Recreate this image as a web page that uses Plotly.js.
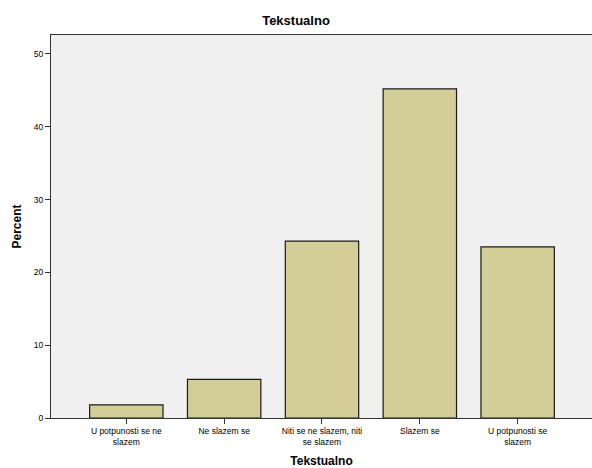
<!DOCTYPE html>
<html>
<head>
<meta charset="utf-8">
<script src="https://cdn.plot.ly/plotly-3.0.1.min.js"></script>
<style>html,body{margin:0;padding:0;background:#fff;}#chart{width:592px;height:468px;}</style>
</head>
<body>
<div id="chart"></div>
<script>
const categories = ["U potpunosti se ne<br>slazem", "Ne slazem se", "Niti se ne slazem, niti<br>se slazem", "Slazem se", "U potpunosti se<br>slazem"];
const percentValues = [1.8, 5.3, 24.3, 45.2, 23.5];
const yTickValues = [0, 10, 20, 30, 40, 50];

const trace = {
  type: "bar",
  x: categories.map((c, i) => i),
  y: percentValues,
  width: 0.75,
  marker: {color: "#D3CE97", line: {color: "#1a1a1a", width: 1.2}},
  hoverinfo: "none"
};

const layout = {
  width: 592, height: 468,
  margin: {l: 51, r: 0, t: 35, b: 50},
  paper_bgcolor: "#ffffff",
  plot_bgcolor: "#F0F0F0",
  font: {family: "Liberation Sans, Arial, sans-serif", color: "#000"},
  title: {text: "<b>Tekstualno</b>", font: {size: 13}, x: 0.5, xanchor: "center", y: 0.957, yanchor: "middle"},
  showlegend: false,
  bargap: 0.25,
  xaxis: {
    range: [-0.77, 4.76],
    tickmode: "array",
    tickvals: categories.map((c, i) => i),
    ticktext: categories,
    ticks: "outside", ticklen: 5, tickcolor: "#333", tickwidth: 1,
    tickfont: {size: 8.5},
    showline: true, linecolor: "#333", linewidth: 1, mirror: true,
    showgrid: false, zeroline: false,
    title: {text: "<b>Tekstualno</b>", font: {size: 12}, standoff: 12}
  },
  yaxis: {
    range: [0, 52.6],
    tickmode: "array",
    tickvals: yTickValues,
    ticks: "outside", ticklen: 5, tickcolor: "#333", tickwidth: 1,
    tickfont: {size: 8.5},
    showline: true, linecolor: "#333", linewidth: 1,
    showgrid: false, zeroline: false,
    title: {text: "<b>Percent</b>", font: {size: 12}, standoff: 9}
  }
};

Plotly.newPlot("chart", [trace], layout, {displayModeBar: false, staticPlot: true});
</script>
</body>
</html>
